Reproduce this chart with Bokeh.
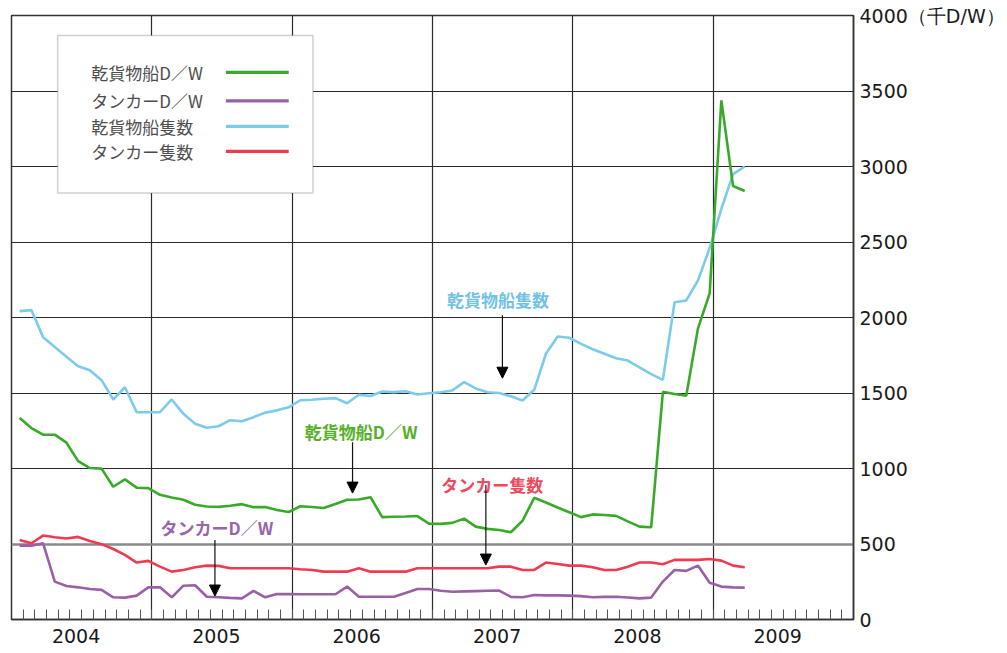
from bokeh.plotting import figure
from bokeh.models import (Range1d, FixedTicker, Grid, BoxAnnotation, Label,
                          Arrow, NormalHead, ColumnDataSource)
from bokeh.embed import file_html
from bokeh.resources import INLINE

# ---------------- data (monthly, Jan 2004 .. Mar 2009) ----------------
start_year = 2004
n_months = 63
dry_dw = [1335, 1268, 1224, 1224, 1171, 1049, 1003, 999, 879, 928,
          873, 870, 826, 808, 793, 760, 748, 746, 753, 764,
          744, 745, 725, 712, 750, 745, 738, 765, 793, 795,
          810, 678, 680, 682, 685, 635, 633, 640, 668, 615,
          600, 593, 578, 654, 806, 775, 742, 710, 678, 696,
          692, 686, 650, 615, 611, 1508, 1493, 1482, 1928, 2160,
          3438, 2871, 2838]
tanker_dw = [489, 489, 505, 251, 222, 213, 202, 196, 147, 145,
             158, 213, 213, 147, 224, 227, 151, 147, 143, 140,
             189, 147, 169, 168, 167, 167, 167, 167, 218, 151,
             151, 151, 151, 175, 202, 202, 190, 184, 186, 188,
             190, 191, 150, 147, 162, 160, 160, 158, 155, 147,
             150, 151, 146, 140, 145, 251, 328, 322, 357, 244,
             218, 213, 211]
dry_count = [2042, 2049, 1870, 1805, 1740, 1677, 1650, 1585, 1457, 1538,
             1373, 1373, 1373, 1457, 1362, 1296, 1270, 1280, 1320, 1313,
             1340, 1370, 1385, 1405, 1452, 1455, 1462, 1466, 1432, 1488,
             1480, 1510, 1506, 1512, 1490, 1498, 1505, 1517, 1572, 1530,
             1505, 1500, 1478, 1450, 1521, 1760, 1874, 1866, 1825, 1790,
             1760, 1730, 1715, 1670, 1625, 1587, 2101, 2113, 2245, 2460,
             2720, 2950, 3000]
tanker_count = [527, 505, 556, 545, 536, 547, 520, 499, 467, 428,
                377, 388, 350, 317, 328, 346, 357, 355, 339, 339,
                339, 339, 339, 339, 333, 328, 317, 317, 317, 339,
                317, 317, 317, 317, 339, 339, 339, 339, 339, 339,
                339, 350, 350, 328, 328, 377, 368, 357, 357, 346,
                328, 328, 350, 377, 377, 366, 395, 395, 395, 401,
                390, 357, 346]
series_names = ["乾貨物船D／W", "タンカーD／W", "乾貨物船隻数", "タンカー隻数"]
year_labels = ["2004", "2005", "2006", "2007", "2008", "2009"]
y_ticks = [0, 500, 1000, 1500, 2000, 2500, 3000, 3500, 4000]
y_unit = "（千D/W）"

# ---------------- styling ----------------
C_GREEN = "#39a92a"
C_PURPLE = "#9960a6"
C_BLUE = "#7ccbec"
C_RED = "#f03a52"
CJK = "Noto Sans CJK JP"
NUM = "DejaVu Sans"

months = list(range(n_months))
xs = [start_year + (m + 0.7) / 12 for m in months]
src = ColumnDataSource(dict(x=xs, dry_dw=dry_dw, tanker_dw=tanker_dw,
                            dry_count=dry_count, tanker_count=tanker_count))

p = figure(width=1007, height=650, output_backend="svg", toolbar_location=None,
           x_range=Range1d(2004, 2010), y_range=Range1d(0, 4000),
           y_axis_location="right",
           min_border_left=11, min_border_top=15, min_border_right=152,
           min_border_bottom=31)
p.background_fill_color = "white"
p.border_fill_color = "white"
p.outline_line_color = "#333333"
p.outline_line_width = 1.5

# axes
yax = p.yaxis[0]
yax.ticker = FixedTicker(ticks=y_ticks, minor_ticks=[])
yax.major_label_overrides = {4000: "4000" + y_unit}
yax.major_tick_in = 0
yax.major_tick_out = 0
yax.minor_tick_in = 0
yax.minor_tick_out = 0
yax.major_label_standoff = 6
yax.major_label_text_font = NUM
yax.major_label_text_font_size = "19px"
yax.major_label_text_color = "#1a1a1a"
yax.axis_line_color = "#333333"
yax.axis_line_width = 1.5

xax = p.xaxis[0]
year_pos = [int(y) + 0.46 for y in year_labels]
xax.ticker = FixedTicker(ticks=year_pos,
                         minor_ticks=[start_year + m / 12 for m in range(1, 72)])
xax.major_label_overrides = {pos: lab for pos, lab in zip(year_pos, year_labels)}
xax.major_tick_in = 0
xax.major_tick_out = 0
xax.minor_tick_in = 10
xax.minor_tick_out = 0
xax.minor_tick_line_color = "#555555"
xax.minor_tick_line_width = 1
xax.major_label_standoff = 9
xax.major_label_text_font = NUM
xax.major_label_text_font_size = "19px"
xax.major_label_text_color = "#1a1a1a"
xax.axis_line_color = "#333333"
xax.axis_line_width = 1.5

# grids
p.xgrid[0].ticker = FixedTicker(ticks=[2005, 2006, 2007, 2008, 2009])
p.xgrid[0].grid_line_color = "#2a2a2a"
p.xgrid[0].grid_line_width = 1.2
p.ygrid[0].ticker = FixedTicker(ticks=[v for v in y_ticks if v >= 1000])
p.ygrid[0].grid_line_color = "#2a2a2a"
p.ygrid[0].grid_line_width = 1.2
g500 = Grid(dimension=1, ticker=FixedTicker(ticks=[500]),
            grid_line_color="#8a8a8a", grid_line_width=2.5)
p.add_layout(g500)

# series
p.line("x", "dry_count", source=src, line_color=C_BLUE, line_width=2.6)
p.line("x", "tanker_count", source=src, line_color=C_RED, line_width=2.6)
p.line("x", "tanker_dw", source=src, line_color=C_PURPLE, line_width=2.6)
p.line("x", "dry_dw", source=src, line_color=C_GREEN, line_width=2.6)

# helpers converting reference pixel layout to data space (layout only)
def X(px):
    return 2004 + (px - 11.0) / 140.73

def Y(py):
    return (619.5 - py) / 0.15113

# legend box (text left, line sample right)
p.add_layout(BoxAnnotation(left=X(57.3), right=X(313.3), top=Y(35), bottom=Y(192.7),
                           fill_color="white", fill_alpha=1.0,
                           line_color="#666666", line_width=1.5))
leg_colors = [C_GREEN, C_PURPLE, C_BLUE, C_RED]
leg_rows = [72, 100.5, 126, 151]
for name, col, row in zip(series_names, leg_colors, leg_rows):
    p.add_layout(Label(x=X(91), y=Y(row), text=name, text_font=CJK,
                       text_font_size="17px", text_color="#4d4d4d",
                       text_align="left", text_baseline="middle"))
    p.add_layout(Arrow(x_start=X(226), y_start=Y(row), x_end=X(289), y_end=Y(row),
                       end=None, line_color=col, line_width=3.2))

# inline labels with arrows
inline = [
    # text, colour, text centre px, arrow x px, arrow y start/end px
    (series_names[2], "#72c2e6", (499, 299), 503.3, 315, 378),
    (series_names[0], "#56b02a", (361.7, 431), 353, 442, 493),
    (series_names[3], "#ee4a5e", (493, 484), 486.7, 485, 565),
    (series_names[1], "#9766a8", (217, 527), 215, 540, 596),
]
for text, col, (cx, cy), ax, ay0, ay1 in inline:
    p.add_layout(Label(x=X(cx), y=Y(cy), text=text, text_font=CJK,
                       text_font_size="17px", text_font_style="bold",
                       text_color=col, text_align="center", text_baseline="middle"))
    p.add_layout(Arrow(x_start=X(ax), y_start=Y(ay0), x_end=X(ax), y_end=Y(ay1),
                       end=NormalHead(size=11, fill_color="black", line_color="black"),
                       line_color="#111111", line_width=1.2))

open("out.html", "w").write(file_html(p, INLINE))
